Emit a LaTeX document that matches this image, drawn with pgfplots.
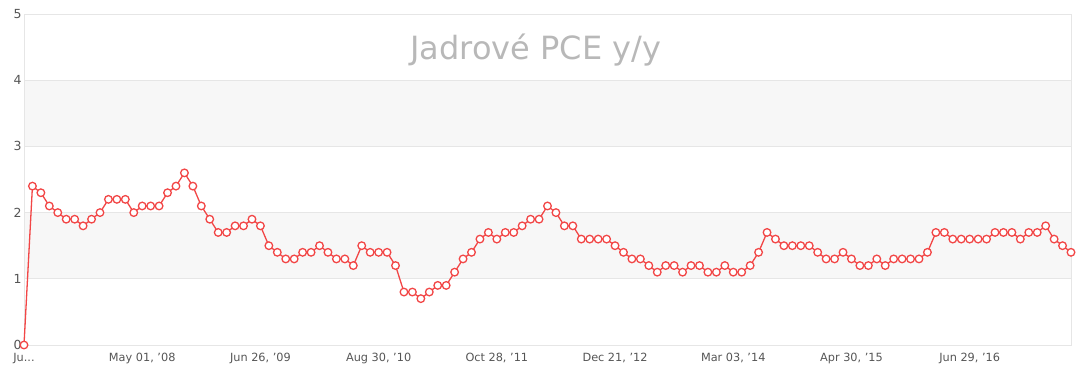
\documentclass[border=0pt]{standalone}
\usepackage{fontspec}
\setmainfont{DejaVu Sans}
\usepackage{pgfplots}
\pgfplotsset{compat=1.18}
\definecolor{linered}{HTML}{F24646}
\definecolor{band}{HTML}{F7F7F7}
\definecolor{gridc}{HTML}{E6E6E6}
\definecolor{tickc}{HTML}{555555}
\definecolor{titlec}{HTML}{B8B8B8}
\begin{document}
\begin{tikzpicture}[x=1pt,y=1pt]
\begin{axis}[
 set layers,
 at={(24pt,26pt)}, anchor=south west,
 scale only axis, width=1047pt, height=331pt,
 xmin=0, xmax=124, ymin=0, ymax=5,
 axis line style={draw=gridc, line width=0.6pt},
 ytick={0,1,2,3,4,5},
 xtick={0,14,28,42,56,70,84,98,112},
 xticklabels={{Ju{.}{.}{.}}, {May 01, '08}, {Jun 26, '09}, {Aug 30, '10}, {Oct 28, '11}, {Dec 21, '12}, {Mar 03, '14}, {Apr 30, '15}, {Jun 29, '16}},
 tick style={draw=none},
 ymajorgrids, grid style={draw=gridc, line width=0.6pt},
 tick label style={font=\fontsize{11.3}{13}\selectfont, text=tickc},
 xticklabel style={yshift=-4.5pt},
 yticklabel style={font=\fontsize{12.5}{14}\selectfont, xshift=1pt},
 /pgf/number format/assume math mode=true,
 clip=false,
]
\begin{pgfonlayer}{axis background}
\fill[band] (axis cs:0,1) rectangle (axis cs:124,2);
\fill[band] (axis cs:0,3) rectangle (axis cs:124,4);
\end{pgfonlayer}
\node[text=titlec, font=\fontsize{32}{38}\selectfont] at (axis cs:60.6,4.46) {Jadrové PCE y/y};
\addplot[color=linered, line width=1.3pt, mark=*, mark size=3.8pt,
 mark options={fill=white, draw=linered, line width=1.3pt}] table {
x y
0 0
1 2.4
2 2.3
3 2.1
4 2.0
5 1.9
6 1.9
7 1.8
8 1.9
9 2.0
10 2.2
11 2.2
12 2.2
13 2.0
14 2.1
15 2.1
16 2.1
17 2.3
18 2.4
19 2.6
20 2.4
21 2.1
22 1.9
23 1.7
24 1.7
25 1.8
26 1.8
27 1.9
28 1.8
29 1.5
30 1.4
31 1.3
32 1.3
33 1.4
34 1.4
35 1.5
36 1.4
37 1.3
38 1.3
39 1.2
40 1.5
41 1.4
42 1.4
43 1.4
44 1.2
45 0.8
46 0.8
47 0.7
48 0.8
49 0.9
50 0.9
51 1.1
52 1.3
53 1.4
54 1.6
55 1.7
56 1.6
57 1.7
58 1.7
59 1.8
60 1.9
61 1.9
62 2.1
63 2.0
64 1.8
65 1.8
66 1.6
67 1.6
68 1.6
69 1.6
70 1.5
71 1.4
72 1.3
73 1.3
74 1.2
75 1.1
76 1.2
77 1.2
78 1.1
79 1.2
80 1.2
81 1.1
82 1.1
83 1.2
84 1.1
85 1.1
86 1.2
87 1.4
88 1.7
89 1.6
90 1.5
91 1.5
92 1.5
93 1.5
94 1.4
95 1.3
96 1.3
97 1.4
98 1.3
99 1.2
100 1.2
101 1.3
102 1.2
103 1.3
104 1.3
105 1.3
106 1.3
107 1.4
108 1.7
109 1.7
110 1.6
111 1.6
112 1.6
113 1.6
114 1.6
115 1.7
116 1.7
117 1.7
118 1.6
119 1.7
120 1.7
121 1.8
122 1.6
123 1.5
124 1.4
};
\end{axis}
\pgfresetboundingbox
\path (0,0) rectangle (1080,371);
\end{tikzpicture}
\end{document}
